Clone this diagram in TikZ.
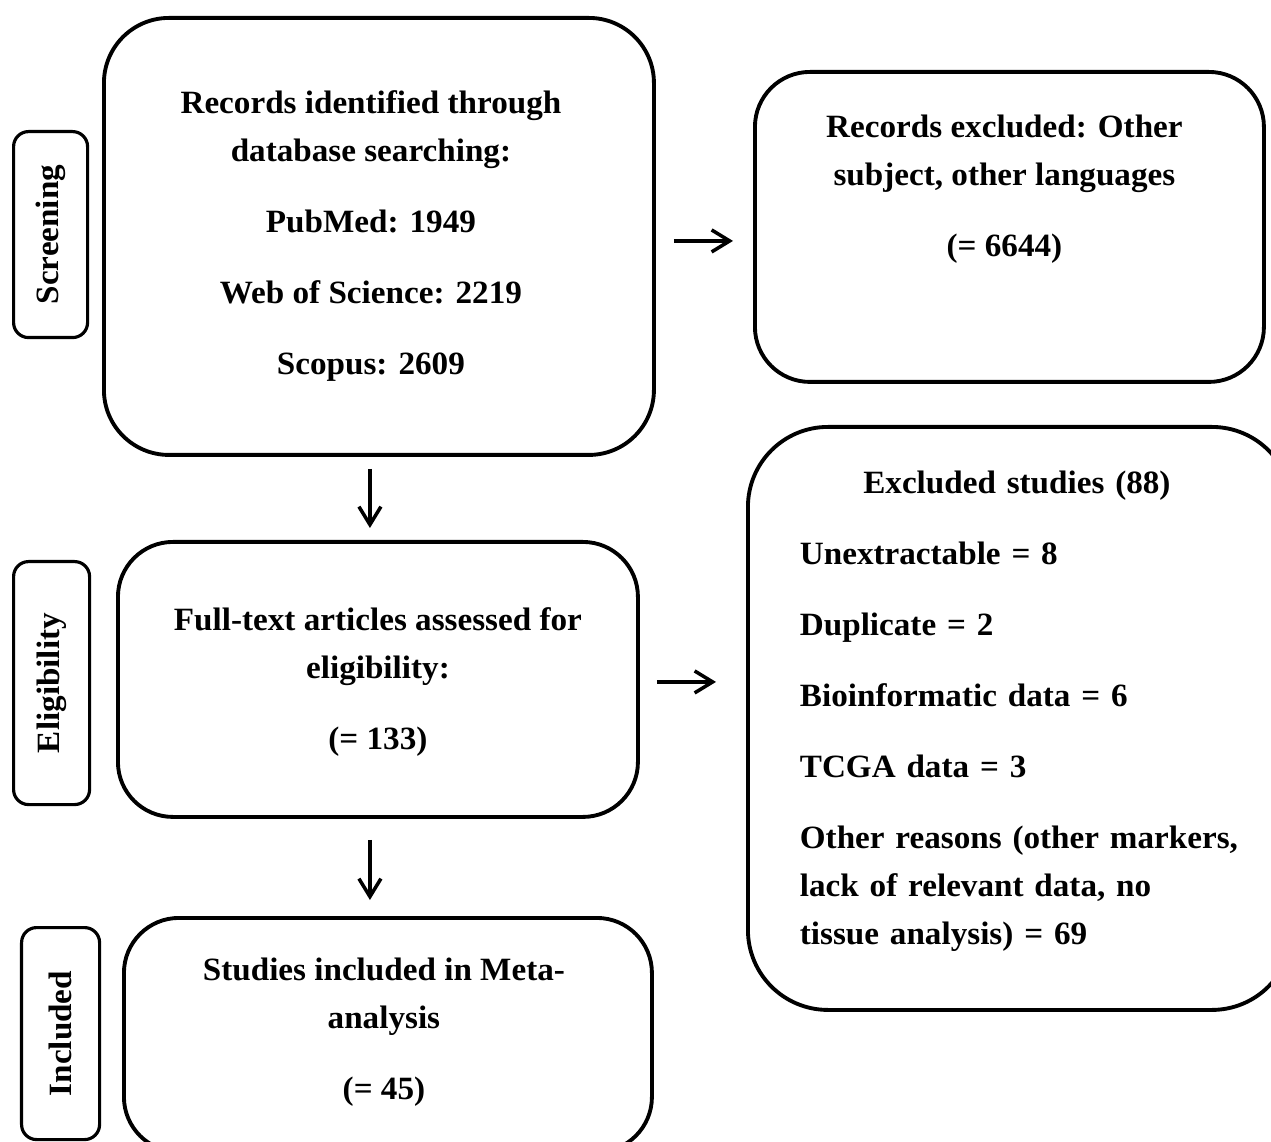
\documentclass[tikz,border=0pt]{standalone}
\usepackage{fontspec}
\setmainfont{Liberation Serif}[FakeStretch=1.02]
\usepackage{tikz}
\usetikzlibrary{arrows.meta,positioning,calc}

\begin{document}
\begin{tikzpicture}[font=\fontsize{18.5}{27.3}\selectfont\bfseries,
  rbox/.style={draw,line width=2.2pt,rounded corners=#1,anchor=north west,inner sep=0pt},
  rbox/.default=1.1cm,
  side/.style={draw,line width=1.8pt,rounded corners=0.3cm,anchor=north west,inner sep=0pt},
  txt/.style={align=center,inner sep=0pt},
  arr/.style={-{Straight Barb[length=3.6mm,width=4.4mm,line width=2pt]},line width=2pt}]
\useasboundingbox (0,0) rectangle (25.42,-22.84);
% stage labels
\node[side,minimum width=1.48cm,minimum height=4.12cm] (scr) at (0.24,-2.6) {};
\node[rotate=90] (scrtxt) at (scr.center) {Screening};
\node[side,minimum width=1.52cm,minimum height=4.86cm] (eli) at (0.24,-11.2) {};
\node[rotate=90] (elitxt) at (eli.center) {Eligibility};
\node[side,minimum width=1.56cm,minimum height=4.24cm] (inc) at (0.4,-18.52) {};
\node[rotate=90] (inctxt) at (inc.center) {Included};
% main column
\node[rbox=1.3cm,minimum width=11.0cm,minimum height=8.74cm] (recs) at (2.04,-0.32) {};
\node[txt] (recstxt) at ([xshift=-0.16cm]recs.center)
  {Records identified through\\database searching:\\[0.46cm]
   PubMed: 1949\\[0.46cm]Web of Science: 2219\\[0.46cm]Scopus: 2609};
\node[rbox,minimum width=10.4cm,minimum height=5.5cm] (full) at (2.32,-10.8) {};
\node[txt] (fulltxt) at ([yshift=-0.06cm]full.center)
  {Full-text articles assessed for\\eligibility:\\[0.46cm](= 133)};
\node[rbox,minimum width=10.56cm,minimum height=4.68cm] (meta) at (2.44,-18.32) {};
\node[txt] (metatxt) at ([xshift=-0.08cm,yshift=0.06cm]meta.center)
  {Studies included in Meta-\\analysis\\[0.46cm](= 45)};
% exclusions
\node[rbox,minimum width=10.18cm,minimum height=6.2cm] (excl) at (15.06,-1.4) {};
\node[txt] (excltxt) at ([xshift=-0.1cm,yshift=0.76cm]excl.center)
  {Records excluded: Other\\subject, other languages\\[0.46cm](= 6644)};
\node[rbox=1.6cm,minimum width=10.88cm,minimum height=11.66cm] (drop) at (14.92,-8.5) {};
\node[txt,align=left,text width=8.68cm] (droptxt) at ([xshift=-0.06cm,yshift=0.14cm]drop.center)
  {\makebox[\linewidth][c]{Excluded studies (88)}\\[0.46cm]
   Unextractable = 8\\[0.46cm]Duplicate = 2\\[0.46cm]Bioinformatic data = 6\\[0.46cm]
   TCGA data = 3\\[0.46cm]\mbox{Other reasons (other markers,}\\lack of relevant data, no\\
   tissue analysis) = 69};
% arrows
\draw[arr,shorten <=0.36cm,shorten >=0.4cm] ([yshift=-0.09cm]recs.east) -- ([yshift=-0.09cm]recs.east -| excl.west);
\draw[arr,shorten <=0.24cm,shorten >=0.24cm] ([xshift=-0.18cm]recs.south) -- ([xshift=-0.18cm]recs.south |- full.north);
\draw[arr,shorten <=0.34cm,shorten >=0.6cm] ([yshift=-0.05cm]full.east) -- ([yshift=-0.05cm]full.east -| drop.west);
\draw[arr,shorten <=0.42cm,shorten >=0.32cm] ([xshift=-0.16cm]full.south) -- ([xshift=-0.16cm]full.south |- meta.north);
\end{tikzpicture}
\end{document}
